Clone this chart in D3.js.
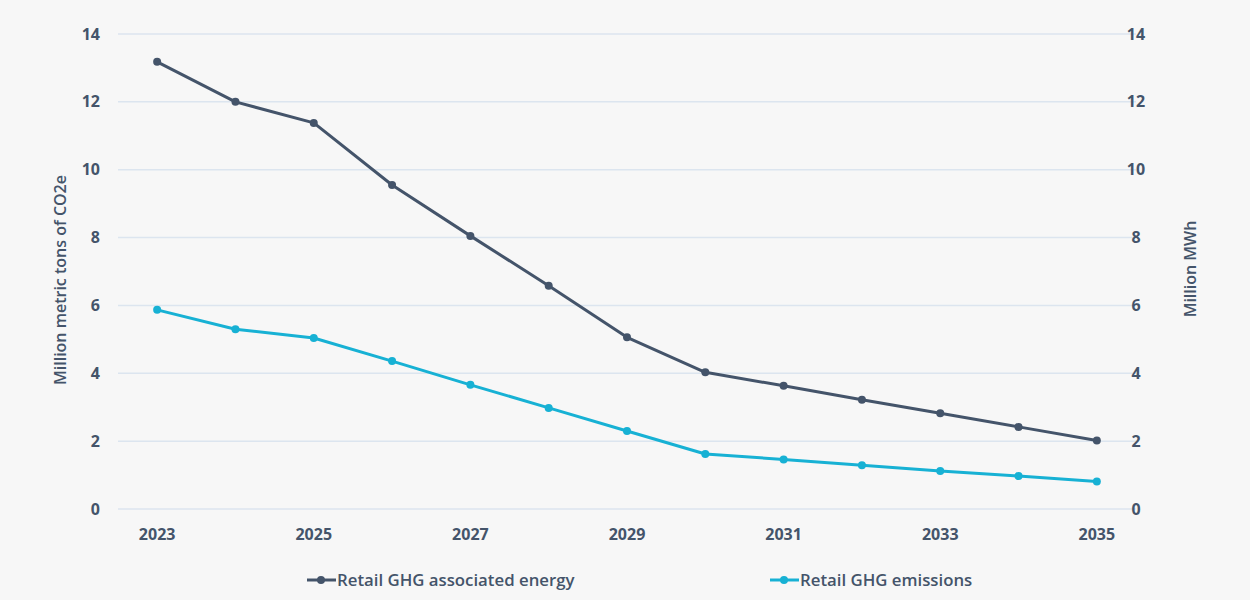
<!DOCTYPE html>
<html><head><meta charset="utf-8">
<script src="https://cdn.jsdelivr.net/npm/d3@7"></script>
<style>
html,body{margin:0;padding:0;background:#f7f7f7;}
svg{display:block;font-family:"Open Sans",sans-serif;}
</style></head>
<body><svg id="c" width="1250" height="600"></svg>
<script>
const years = [2023,2024,2025,2026,2027,2028,2029,2030,2031,2032,2033,2034,2035];
const energy = [13.18,12.0,11.38,9.55,8.05,6.58,5.06,4.03,3.63,3.22,2.82,2.42,2.02];
const emissions = [5.87,5.3,5.04,4.36,3.66,2.98,2.3,1.62,1.46,1.29,1.12,0.97,0.81];
const yTicks = [0,2,4,6,8,10,12,14];
const xTickLabels = [2023,2025,2027,2029,2031,2033,2035];
const seriesNames = ["Retail GHG associated energy","Retail GHG emissions"];
const leftTitle = "Million metric tons of CO2e";
const rightTitle = "Million MWh";

const textColor = "#44546a";
const colors = ["#44546a","#17b1d4"];
const svg = d3.select("#c");
svg.append("rect").attr("width",1250).attr("height",600).attr("fill","#f7f7f7");

const x = d3.scaleBand().domain(years).range([118,1136]).padding(0);
const cx = d => x(d) + x.bandwidth()/2;
const y = d3.scaleLinear().domain([0,14]).range([509,34]);

// gridlines
svg.append("g").selectAll("line").data(yTicks).join("line")
  .attr("x1",118).attr("x2",1136)
  .attr("y1",d=>y(d)).attr("y2",d=>y(d))
  .attr("stroke","#dce5ef").attr("stroke-width",1.5);

// left axis
const la = svg.append("g").attr("transform","translate(118,0)")
  .call(d3.axisLeft(y).tickValues(yTicks).tickSize(0).tickPadding(18));
la.select(".domain").remove();
la.selectAll("text").attr("fill",textColor).attr("font-size",16).attr("font-weight",700)
  .attr("font-family","Open Sans");

// right axis
const ra = svg.append("g").attr("transform","translate(1136,0)")
  .call(d3.axisRight(y).tickValues(yTicks).tickSize(0).tickPadding(0));
ra.select(".domain").remove();
ra.selectAll("text").attr("fill",textColor).attr("font-size",16).attr("font-weight",700)
  .attr("font-family","Open Sans").attr("text-anchor","middle").attr("x",0);

// bottom axis
const ba = svg.append("g").attr("transform","translate(0,509)")
  .call(d3.axisBottom(x).tickValues(xTickLabels).tickSize(0).tickPadding(20));
ba.select(".domain").remove();
ba.selectAll("text").attr("fill",textColor).attr("font-size",16).attr("font-weight",700)
  .attr("font-family","Open Sans");

// axis titles
svg.append("text").attr("transform","translate(66,280) rotate(-90)")
  .attr("text-anchor","middle").attr("fill",textColor).attr("font-size",16).attr("font-weight",600)
  .text(leftTitle);
svg.append("text").attr("transform","translate(1196,269) rotate(-90)")
  .attr("text-anchor","middle").attr("fill",textColor).attr("font-size",16).attr("font-weight",600)
  .text(rightTitle);

// lines
const data = [energy, emissions];
const line = d3.line().x((d,i)=>cx(years[i])).y(d=>y(d));
data.forEach((s,k)=>{
  svg.append("path").datum(s).attr("d",line).attr("fill","none")
    .attr("stroke",colors[k]).attr("stroke-width",3).attr("stroke-linejoin","round");
  svg.append("g").selectAll("circle").data(s).join("circle")
    .attr("cx",(d,i)=>cx(years[i])).attr("cy",d=>y(d)).attr("r",4)
    .attr("fill",colors[k]);
});

// legend
const legX = [307,770];
seriesNames.forEach((n,k)=>{
  const g = svg.append("g").attr("transform",`translate(${legX[k]},580)`);
  g.append("line").attr("x1",0).attr("x2",29).attr("stroke",colors[k]).attr("stroke-width",3);
  g.append("circle").attr("cx",14).attr("r",4).attr("fill",colors[k]);
  g.append("text").attr("x",30).attr("dy","0.35em").attr("fill",textColor)
    .attr("font-size",16.8).attr("font-weight",600).text(n);
});
</script></body></html>
